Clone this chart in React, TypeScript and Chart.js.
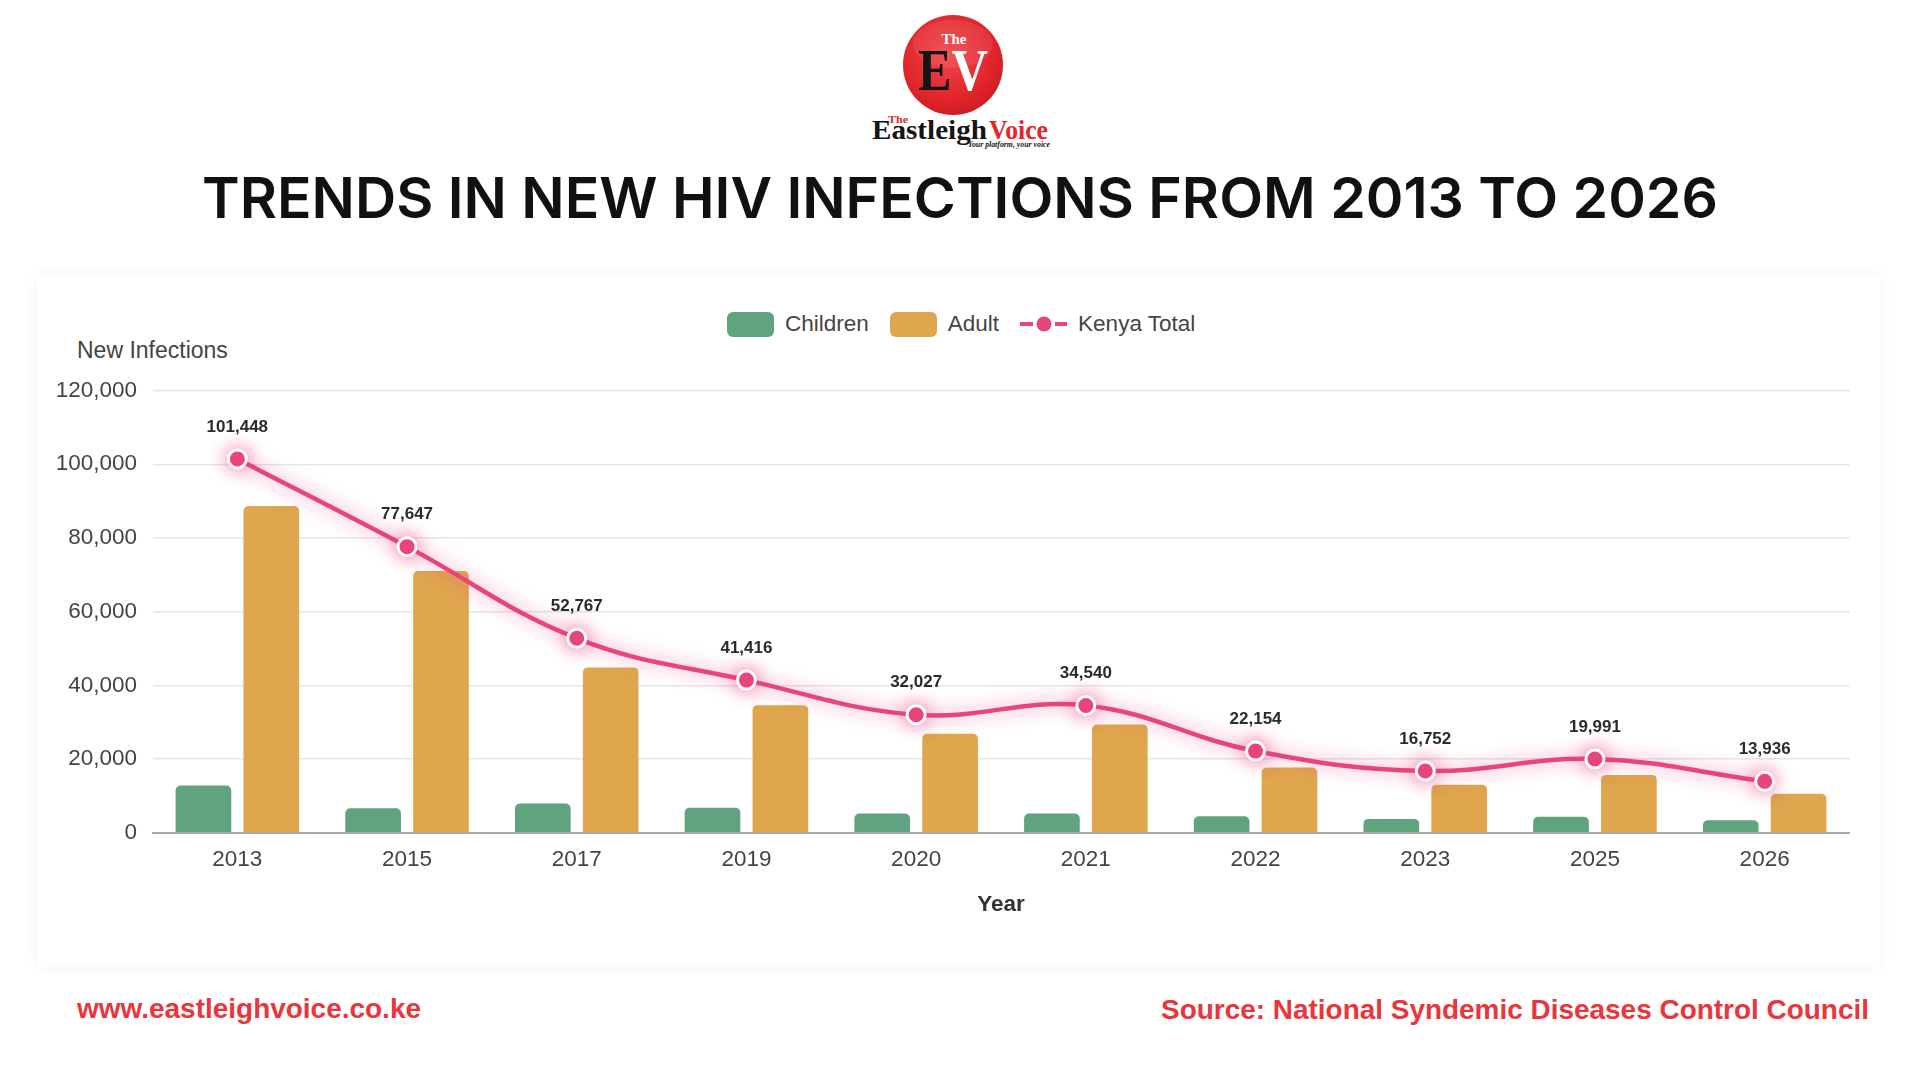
import React, { useEffect, useRef } from "react";
import { Chart, registerables } from "chart.js";

Chart.register(...registerables);

// Reporting years shown on the category axis
const years = ["2013", "2015", "2017", "2019", "2020", "2021", "2022", "2023", "2025", "2026"];
// New infections among children
const children = [12800, 6620, 7900, 6800, 5200, 5200, 4450, 3750, 4300, 3400];
// New infections among adults
const adults = [88650, 71030, 44870, 34620, 26830, 29340, 17700, 13000, 15690, 10540];
// National total of new infections
const kenyaTotal = [101448, 77647, 52767, 41416, 32027, 34540, 22154, 16752, 19991, 13936];
// Value axis range
const yMin = 0;
const yMax = 120000;
const yStep = 20000;

const GREEN = "#5fa47f";
const ORANGE = "#dfa64e";
const PINK = "#e8457d";
const SANS = '"Liberation Sans", Arial, Helvetica, sans-serif';

const fmt = (v: number) => v.toLocaleString("en-US");

// Soft pink halo behind the total line and its markers
const glowPlugin = {
  id: "lineGlow",
  beforeDatasetDraw(chart: any, args: any) {
    if (chart.data.datasets[args.index].type !== "line") return;
    const ctx = chart.ctx;
    ctx.save();
    ctx.shadowColor = "rgba(238, 66, 130, 0.7)";
    ctx.shadowBlur = 18;
  },
  afterDatasetDraw(chart: any, args: any) {
    if (chart.data.datasets[args.index].type !== "line") return;
    chart.ctx.restore();
  },
};

// Value labels above each point of the total line
const totalLabelsPlugin = {
  id: "totalLabels",
  afterDatasetsDraw(chart: any) {
    const idx = chart.data.datasets.findIndex((d: any) => d.type === "line");
    if (idx < 0) return;
    const meta = chart.getDatasetMeta(idx);
    const values = chart.data.datasets[idx].data as number[];
    const ctx = chart.ctx;
    ctx.save();
    ctx.font = `bold 17px ${SANS}`;
    ctx.fillStyle = "#2b2b2b";
    ctx.textAlign = "center";
    ctx.textBaseline = "middle";
    meta.data.forEach((pt: any, i: number) => {
      ctx.fillText(fmt(values[i]), pt.x, pt.y - 32);
    });
    ctx.restore();
  },
};

function HivChart() {
  const canvasRef = useRef<HTMLCanvasElement | null>(null);

  useEffect(() => {
    if (!canvasRef.current) return;
    const chart = new Chart(canvasRef.current, {
      type: "bar",
      data: {
        labels: years,
        datasets: [
          {
            type: "line",
            label: "Kenya Total",
            data: kenyaTotal,
            borderColor: PINK,
            borderWidth: 4.5,
            tension: 0.4,
            pointRadius: 9,
            pointHoverRadius: 9,
            pointBackgroundColor: PINK,
            pointBorderColor: "#ffffff",
            pointBorderWidth: 3,
            fill: false,
            order: 0,
          } as any,
          {
            type: "bar",
            label: "Children",
            data: children,
            backgroundColor: GREEN,
            borderRadius: 5,
            borderSkipped: "start",
            categoryPercentage: 0.8,
            barPercentage: 0.82,
            order: 1,
          },
          {
            type: "bar",
            label: "Adult",
            data: adults,
            backgroundColor: ORANGE,
            borderRadius: 5,
            borderSkipped: "start",
            categoryPercentage: 0.8,
            barPercentage: 0.82,
            order: 1,
          },
        ],
      },
      options: {
        responsive: false,
        animation: false,
        devicePixelRatio: 1,
        layout: { padding: { top: 90.6, right: 20.5, bottom: 0, left: 0 } },
        plugins: {
          legend: { display: false },
          tooltip: { enabled: false },
        },
        scales: {
          x: {
            type: "category",
            grid: { display: false, drawTicks: false },
            border: { display: true, color: "#a9a9a9", width: 2 },
            ticks: {
              color: "#444444",
              font: { family: SANS, size: 22.5 },
              padding: 14,
              maxRotation: 0,
            },
            title: {
              display: true,
              text: "Year",
              color: "#333333",
              font: { family: SANS, size: 22.5, weight: "bold" },
              padding: { top: 0, bottom: 21.5 },
            },
            afterFit(scale: any) {
              scale.height = 107.3;
            },
          },
          y: {
            min: yMin,
            max: yMax,
            grid: { color: "#e6e6e6", lineWidth: 1.5, drawTicks: false },
            border: { display: false },
            ticks: {
              stepSize: yStep,
              color: "#444444",
              font: { family: SANS, size: 22.5 },
              padding: 15.5,
              callback: (v: any) => fmt(Number(v)),
            },
            afterFit(scale: any) {
              scale.width = 112.5;
            },
          },
        },
      },
      plugins: [glowPlugin, totalLabelsPlugin],
    });
    return () => chart.destroy();
  }, []);

  return (
    <canvas
      ref={canvasRef}
      width={1830}
      height={640}
      style={{ position: "absolute", left: 40, top: 300, width: 1830, height: 640 }}
    />
  );
}

function LegendRow() {
  const box = (color: string) => (
    <div style={{ width: 47, height: 25, borderRadius: 6, background: color, marginRight: 11, flex: "none" }} />
  );
  const text: React.CSSProperties = { fontFamily: SANS, fontSize: 22.5, color: "#444", marginRight: 21, whiteSpace: "nowrap" };
  return (
    <div style={{ position: "absolute", left: 727, top: 311, height: 26, display: "flex", alignItems: "center" }}>
      {box(GREEN)}
      <span style={text}>Children</span>
      {box(ORANGE)}
      <span style={text}>Adult</span>
      <svg width={47} height={26} style={{ marginRight: 11, flex: "none" }}>
        <line x1={0} y1={13} x2={13} y2={13} stroke={PINK} strokeWidth={4} />
        <line x1={35} y1={13} x2={47} y2={13} stroke={PINK} strokeWidth={4} />
        <circle cx={24} cy={13} r={7.5} fill={PINK} />
      </svg>
      <span style={text}>Kenya Total</span>
    </div>
  );
}

function Branding() {
  return (
    <svg
      width={1920}
      height={1080}
      style={{ position: "absolute", left: 0, top: 0, pointerEvents: "none" }}
    >
      <defs>
        <radialGradient id="evRed" cx="45%" cy="40%" r="65%">
          <stop offset="0%" stopColor="#f1464b" />
          <stop offset="70%" stopColor="#e0252b" />
          <stop offset="100%" stopColor="#c81b21" />
        </radialGradient>
      </defs>
      {/* logo badge */}
      <circle cx={953} cy={65} r={50} fill="url(#evRed)" />
      <ellipse cx={953} cy={44} rx={40} ry={24} fill="#ffffff" opacity={0.08} />
      <text x={954} y={44} textAnchor="middle" fontFamily='"Liberation Serif", serif' fontWeight="bold" fontSize={15} fill="#ffffff">
        The
      </text>
      <text x={918} y={90} fontFamily='"Liberation Serif", serif' fontWeight="bold" fontSize={60} textLength={70} lengthAdjust="spacingAndGlyphs">
        <tspan fill="#151515">E</tspan>
        <tspan fill="#ffffff">V</tspan>
      </text>
      <text x={888} y={123} fontFamily='"Liberation Serif", serif' fontWeight="bold" fontSize={11} fill="#e2262c" textLength={20} lengthAdjust="spacingAndGlyphs">
        The
      </text>
      <text x={872} y={139} fontFamily='"Liberation Serif", serif' fontWeight="bold" fontSize={27} fill="#151515" textLength={115} lengthAdjust="spacingAndGlyphs">
        Eastleigh
      </text>
      <text x={989} y={139} fontFamily='"Liberation Serif", serif' fontWeight="bold" fontSize={27} fill="#e2262c" textLength={59} lengthAdjust="spacingAndGlyphs">
        Voice
      </text>
      <text x={968} y={146.5} fontFamily='"Liberation Serif", serif' fontStyle="italic" fontWeight="bold" fontSize={7.5} fill="#151515" textLength={82} lengthAdjust="spacingAndGlyphs">
        Your platform, your voice
      </text>

      {/* headline */}
      <text x={202} y={218} fontFamily='Inter, "Noto Sans", sans-serif' fontWeight={600} fontSize={57} fill="#111111" textLength={1516} lengthAdjust="spacingAndGlyphs">
        TRENDS IN NEW HIV INFECTIONS FROM 2013 TO 2026
      </text>

      {/* footer */}
      <text x={77} y={1018} fontFamily={SANS} fontWeight="bold" fontSize={27} fill="#e8363c" textLength={344} lengthAdjust="spacingAndGlyphs">
        www.eastleighvoice.co.ke
      </text>
      <text x={1161} y={1019} fontFamily={SANS} fontWeight="bold" fontSize={28} fill="#e8363c" textLength={708} lengthAdjust="spacingAndGlyphs">
        Source: National Syndemic Diseases Control Council
      </text>
    </svg>
  );
}

export default function App() {
  return (
    <div
      style={{
        position: "absolute",
        left: 0,
        top: 0,
        width: 1920,
        height: 1080,
        overflow: "hidden",
        background: "#ffffff",
      }}
    >
      <div
        style={{
          position: "absolute",
          left: 37,
          top: 275,
          width: 1843,
          height: 692,
          background: "#ffffff",
          boxShadow: "0 0 14px rgba(0,0,0,0.05)",
        }}
      />
      <Branding />
      <LegendRow />
      <div
        style={{
          position: "absolute",
          left: 77,
          top: 337,
          fontFamily: SANS,
          fontSize: 23,
          color: "#444",
          whiteSpace: "nowrap",
        }}
      >
        New Infections
      </div>
      <HivChart />
    </div>
  );
}
